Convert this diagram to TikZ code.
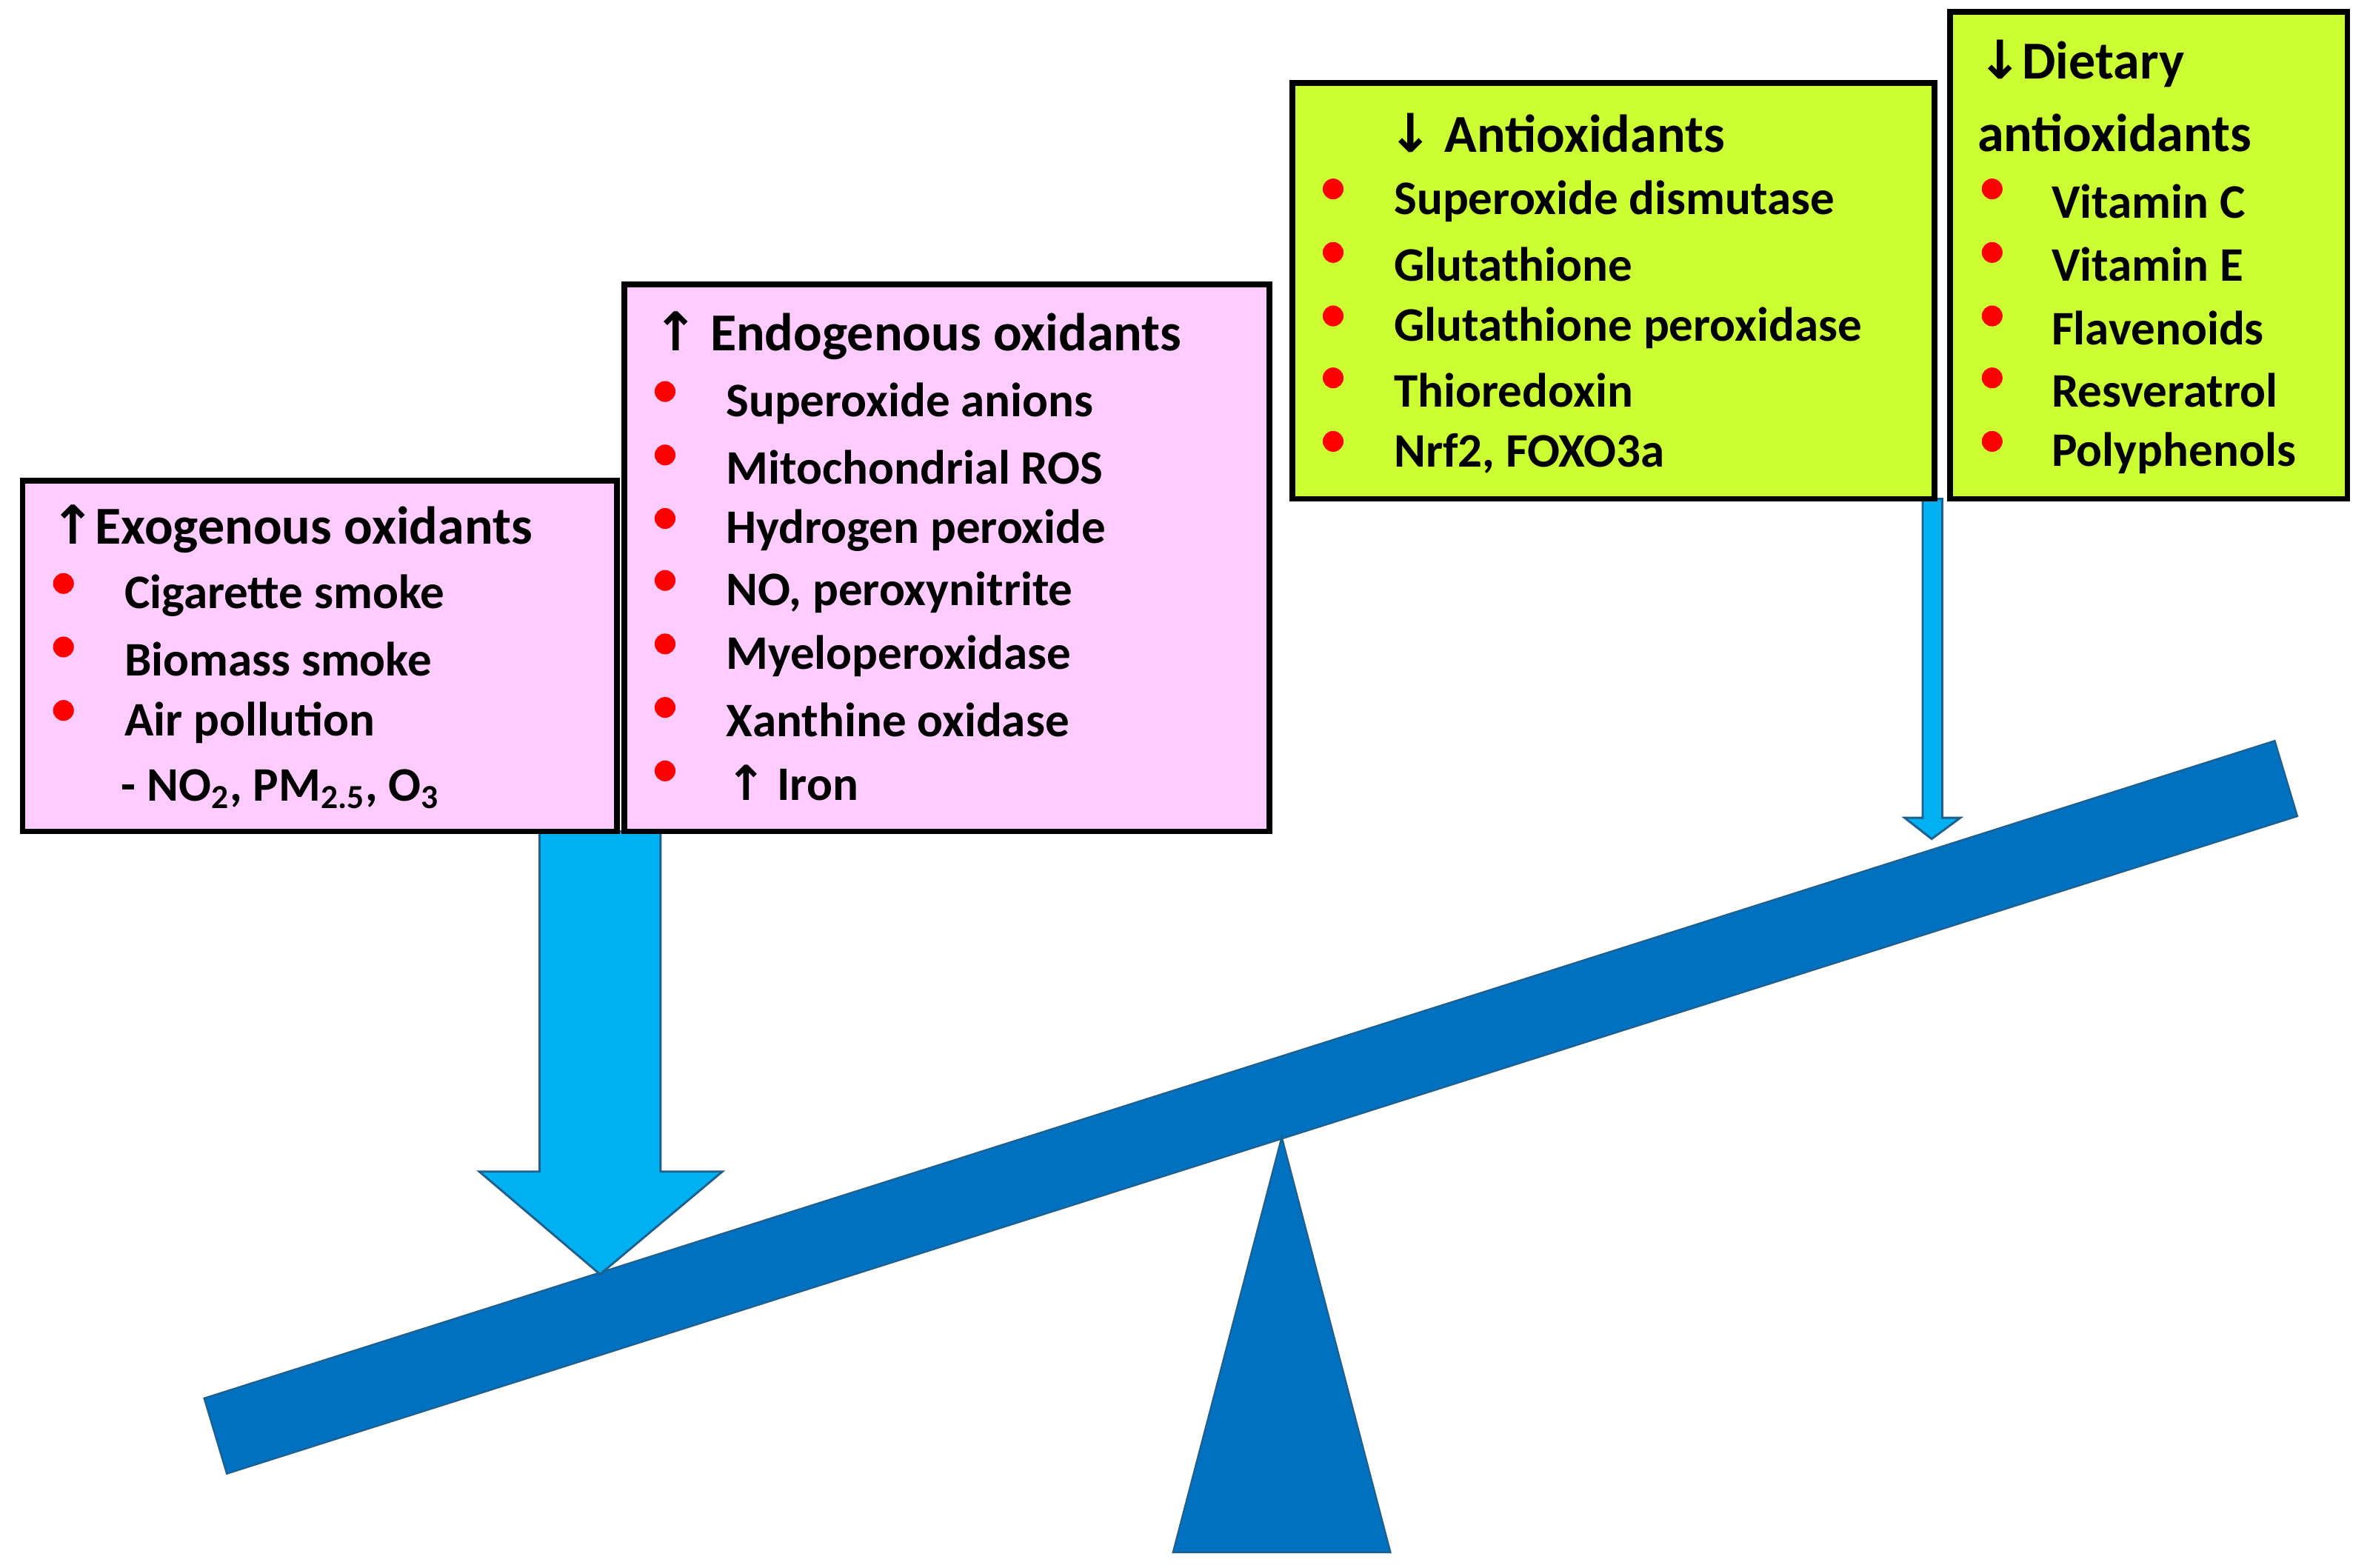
\documentclass[tikz,border=0pt]{standalone}
\usepackage{fontspec}
\setmainfont{Carlito}
\newfontfamily\arrf{DejaVu Sans}
\newcommand{\myup}{{\arrf\bfseries ↑}}
\newcommand{\mydown}{{\arrf\bfseries ↓}}
\begin{document}
\begin{tikzpicture}[x=0.020408cm,y=-0.020408cm,
 box/.style={draw=black,line width=2.2pt},
 pinkbox/.style={box,fill=pinkc},
 greenbox/.style={box,fill=greenc},
 txt/.style={anchor=west,inner sep=0pt,font=\fontsize{18.5}{20}\selectfont\bfseries},
 ttl/.style={anchor=west,inner sep=0pt,font=\fontsize{20.5}{22}\selectfont\bfseries},
 bul/.style={fill=red,draw=none,circle,inner sep=0pt,minimum size=8pt},
 arr/.style={fill=arrowc,draw=arrowd,line width=0.8pt}]
\definecolor{pinkc}{HTML}{FFCCFF}
\definecolor{greenc}{HTML}{CCFF33}
\definecolor{beamc}{HTML}{0070C0}
\definecolor{arrowc}{HTML}{00B0F0}
\definecolor{arrowd}{HTML}{1F5F8B}
\useasboundingbox (0,0) rectangle (1568,1037);
% beam and fulcrum
\path[fill=beamc,draw=arrowd,line width=0.6pt] (135,925) -- (1505,490) -- (1520,540) -- (150,975) -- cycle;
\path[fill=beamc,draw=arrowd,line width=0.6pt] (848,752) -- (920,1027) -- (776,1027) -- cycle;
% arrows
\path[arr] (357,550) -- (437,550) -- (437,775) -- (478,775) -- (397,843) -- (317,775) -- (357,775) -- cycle;
\path[arr] (1272,330) -- (1285,330) -- (1285,541) -- (1297,541) -- (1278,555) -- (1260,541) -- (1272,541) -- cycle;
% boxes
\path[pinkbox] (15,318) rectangle (408,550);
\coordinate (exo) at (211,434);
\path[pinkbox] (413,188) rectangle (840,550);
\coordinate (endo) at (626,369);
\path[greenbox] (855,55) rectangle (1280,330);
\coordinate (anti) at (1067,192);
\path[greenbox] (1290,8) rectangle (1553,330);
\coordinate (diet) at (1421,169);
% exogenous
\node[ttl] (t1) at (33,350) {\myup Exogenous oxidants};
\foreach \y/\t in {394/Cigarette smoke,436/Biomass smoke,478/Air pollution}{
 \node[bul] at (42,\y-8) {}; \node[txt] at (82,\y) {\t};}
\node[txt] (no) at (80,522) {- NO\textsubscript{2}, PM\textsubscript{2.5}, O\textsubscript{3}};
% endogenous
\node[ttl] (t2) at (432,222) {\myup{} Endogenous oxidants};
\foreach \y/\t in {267/Superoxide anions,309/Mitochondrial ROS,351/Hydrogen peroxide,392/{NO, peroxynitrite},434/Myeloperoxidase,476/Xanthine oxidase,518/\myup{} Iron}{
 \node[bul] at (440,\y-8) {}; \node[txt] at (480,\y) {\t};}
% antioxidants
\node[ttl] (t3) at (918,88) {\mydown{} Antioxidants};
\foreach \y/\t in {133/Superoxide dismutase,175/Glutathione,217/Glutathione peroxidase,258/Thioredoxin,300/{Nrf2, FOXO3a}}{
 \node[bul] at (882,\y-8) {}; \node[txt] at (922,\y) {\t};}
% dietary
\node[ttl] (t4) at (1308,42) {\mydown Dietary};
\node[ttl] (t5) at (1308,88) {antioxidants};
\foreach \y/\t in {133/Vitamin C,175/Vitamin E,217/Flavenoids,258/Resveratrol,300/Polyphenols}{
 \node[bul] at (1318,\y-8) {}; \node[txt] at (1357,\y) {\t};}
\end{tikzpicture}
\end{document}
